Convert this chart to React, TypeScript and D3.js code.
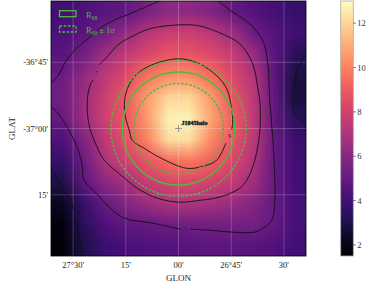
import { useMemo } from 'react'
import * as d3 from 'd3'

// sky window (deg)
const lonEdges = [27.605, 26.395]
const latEdges = [-36.519, -37.481]

const xTicks = [27.5, 27.25, 27.0, 26.75, 26.5]
const xTickLabels = ["27°30'", "15'", "00'", "26°45'", "30'"]
const yTicks = [-36.75, -37.0, -37.25]
const yTickLabels = ["-36°45'", "-37°00'", "15'"]

const cbDomain = [1.5, 13.0]
const cbTicks = [2, 4, 6, 8, 10, 12]

// counts map, rows top -> bottom, columns left -> right
const heat = [
	[4.0, 4.3, 4.6, 4.9, 5.5, 6.1, 6.2, 5.8, 5.0, 4.5, 4.1, 3.7],
	[4.3, 4.7, 5.4, 6.3, 7.3, 7.8, 7.9, 7.4, 6.6, 5.2, 4.5, 3.9],
	[4.6, 5.4, 6.6, 7.6, 8.3, 8.8, 8.8, 8.4, 7.7, 6.4, 4.6, 3.3],
	[5.1, 6.2, 7.4, 8.4, 9.6, 10.3, 10.3, 9.5, 8.3, 7.2, 4.7, 2.9],
	[5.3, 6.5, 7.8, 9.0, 10.7, 12.0, 12.0, 10.6, 8.9, 7.4, 4.8, 2.8],
	[5.0, 6.5, 7.9, 8.9, 10.6, 12.7, 12.7, 10.8, 9.1, 7.5, 4.9, 3.3],
	[4.3, 5.7, 7.4, 8.6, 10.0, 12.2, 12.2, 10.2, 8.8, 7.4, 5.0, 3.8],
	[3.7, 5.1, 7.0, 8.0, 8.8, 9.5, 9.7, 9.2, 8.3, 7.1, 5.0, 4.0],
	[3.0, 4.8, 6.0, 6.8, 7.7, 8.2, 8.3, 8.0, 7.6, 6.6, 5.0, 4.0],
	[2.2, 3.7, 5.0, 5.8, 6.5, 7.0, 7.0, 6.8, 6.4, 5.9, 5.0, 4.1],
	[1.8, 3.3, 4.3, 4.8, 5.0, 5.2, 5.3, 5.4, 5.4, 5.4, 4.9, 4.1],
	[1.6, 3.0, 3.8, 4.2, 4.4, 4.5, 4.6, 4.7, 4.7, 4.6, 4.4, 4.0],
]

// contour lines [glon, glat]
const level5a = [
	[26.824, -36.511], [26.757, -36.553], [26.662, -36.605], [26.6, -36.669],
	[26.576, -36.756], [26.567, -36.895], [26.552, -37.045], [26.543, -37.195],
	[26.543, -37.271], [26.557, -37.346], [26.6, -37.376], [26.638, -37.391],
	[26.743, -37.391], [26.867, -37.383], [26.943, -37.38],
]
const level5b = [
	[26.99, -37.38], [27.124, -37.357], [27.257, -37.338], [27.329, -37.297],
	[27.39, -37.244], [27.448, -37.195], [27.457, -37.139], [27.481, -37.071],
	[27.519, -37.008], [27.571, -36.944], [27.629, -36.895], [27.629, -36.85],
	[27.571, -36.801], [27.533, -36.744], [27.481, -36.695], [27.424, -36.658],
	[27.376, -36.624], [27.314, -36.594], [27.233, -36.568], [27.067, -36.511],
]
const level7 = [
	[27.376, -36.759], [27.343, -36.733], [27.281, -36.68], [27.233, -36.658],
	[27.138, -36.624], [26.995, -36.609], [26.9, -36.613], [26.805, -36.639],
	[26.71, -36.68], [26.648, -36.756], [26.624, -36.846], [26.614, -36.895],
	[26.614, -37.008], [26.638, -37.12], [26.676, -37.195], [26.71, -37.226],
	[26.805, -37.259], [26.9, -37.271], [26.995, -37.278], [27.1, -37.263],
	[27.195, -37.226], [27.271, -37.177], [27.352, -37.12], [27.39, -37.064],
	[27.424, -36.989], [27.433, -36.895], [27.419, -36.835], [27.405, -36.816],
]
const level9 = [
	[26.776, -37.056], [26.819, -37.12], [26.886, -37.143], [26.962, -37.15],
	[27.09, -37.109], [27.162, -37.075], [27.219, -37.045], [27.233, -37.008],
	[27.248, -36.97], [27.257, -36.914], [27.243, -36.85], [27.195, -36.793],
	[27.114, -36.756], [26.995, -36.737], [26.9, -36.756], [26.819, -36.801],
	[26.771, -36.85], [26.748, -36.925], [26.743, -36.977], [26.748, -37.004],
]
const level3a = [
	[27.624, -37.132], [27.571, -37.192], [27.543, -37.233], [27.51, -37.271],
	[27.5, -37.305],
]
const level3b = [
	[27.481, -37.357], [27.476, -37.383], [27.471, -37.414], [27.462, -37.447],
	[27.452, -37.496],
]
const level3c = [
	[26.381, -36.707], [26.433, -36.774], [26.448, -36.831], [26.457, -36.895],
	[26.448, -36.944], [26.381, -36.989],
]
const contourLines = [level5a, level5b, level7, level9, level3a, level3b, level3c]
const contourLabels = [
	{ text: '5', lon: 26.967, lat: -37.38 },
	{ text: '7', lon: 27.39, lat: -36.789 },
	{ text: '9', lon: 26.757, lat: -37.03 },
	{ text: '3', lon: 27.486, lat: -37.331 },
]

// source + containment radii (deg)
const source = { name: 'J1845halo', lon: 27.0, lat: -37.0 }
const r68 = 0.213
const r68Err = [0.17, 0.256]

const green = '#4cbb3a'
const serif = '"Liberation Serif", "DejaVu Serif", serif'

export default function App() {
	const margin = { top: 1, right: 306, bottom: 256, left: 51 }
	const x = d3.scaleLinear().domain(lonEdges).range([margin.left, margin.right])
	const y = d3.scaleLinear().domain(latEdges).range([margin.top, margin.bottom])
	const color = d3.scaleSequential(d3.interpolateMagma).domain(cbDomain)
	const cbY = d3.scaleLinear().domain(cbDomain).range([margin.bottom, margin.top])
	const cbX0 = 340.7
	const cbX1 = 353.3

	const heatHref = useMemo(() => {
		const c = document.createElement('canvas')
		c.width = heat[0].length
		c.height = heat.length
		const ctx = c.getContext('2d')
		heat.forEach((row, j) =>
			row.forEach((v, i) => {
				ctx.fillStyle = color(v)
				ctx.fillRect(i, j, 1, 1)
			})
		)
		return c.toDataURL()
	}, [])

	const line = d3
		.line<number[]>()
		.x((d) => x(d[0]))
		.y((d) => y(d[1]))
		.curve(d3.curveCatmullRom)

	const cosB = Math.cos((source.lat * Math.PI) / 180)
	const circ = (r: number) => ({
		cx: x(source.lon),
		cy: y(source.lat),
		rx: Math.abs(x(source.lon + r / cosB) - x(source.lon)),
		ry: Math.abs(y(source.lat - r) - y(source.lat)),
	})

	const stops = d3.range(0, 1.0001, 0.05)

	return (
		<svg
			width={374}
			height={283}
			style={{ position: 'absolute', left: 0, top: 0 }}
			fontFamily={serif}
		>
			<defs>
				<clipPath id="plotclip">
					<rect
						x={margin.left}
						y={margin.top}
						width={margin.right - margin.left}
						height={margin.bottom - margin.top}
					/>
				</clipPath>
				<linearGradient id="cbgrad" x1="0" y1="1" x2="0" y2="0">
					{stops.map((t) => (
						<stop key={t} offset={t} stopColor={d3.interpolateMagma(t)} />
					))}
				</linearGradient>
			</defs>

			<image
				href={heatHref}
				x={margin.left}
				y={margin.top}
				width={margin.right - margin.left}
				height={margin.bottom - margin.top}
				preserveAspectRatio="none"
			/>

			{/* grid */}
			<g stroke="#fff" strokeOpacity={0.3} strokeWidth={0.7}>
				{xTicks.map((t) => (
					<line key={t} x1={x(t)} x2={x(t)} y1={margin.top} y2={margin.bottom} />
				))}
				{yTicks.map((t) => (
					<line key={t} y1={y(t)} y2={y(t)} x1={margin.left} x2={margin.right} />
				))}
			</g>

			<g clipPath="url(#plotclip)">
				{contourLines.map((c, i) => (
					<path key={i} d={line(c)} fill="none" stroke="#111" strokeWidth={0.9} />
				))}
				{contourLabels.map((l) => (
					<text
						key={l.text}
						x={x(l.lon)}
						y={y(l.lat)}
						fontSize={5.5}
						textAnchor="middle"
						dominantBaseline="central"
						fill="#222"
					>
						{l.text}
					</text>
				))}
				<ellipse {...circ(r68)} fill="none" stroke={green} strokeWidth={1.4} />
				{r68Err.map((r) => (
					<ellipse
						key={r}
						{...circ(r)}
						fill="none"
						stroke={green}
						strokeWidth={1.4}
						strokeDasharray="2.6,1.6"
					/>
				))}
				<g stroke="#999" strokeWidth={1}>
					<line x1={x(source.lon) - 3.5} x2={x(source.lon) + 3.5} y1={y(source.lat)} y2={y(source.lat)} />
					<line x1={x(source.lon)} x2={x(source.lon)} y1={y(source.lat) - 3.5} y2={y(source.lat) + 3.5} />
				</g>
				<text
					x={x(source.lon) + 3}
					y={y(source.lat) - 4}
					fontSize={6}
					fontWeight="bold"
					fill="#111"
					stroke="#666"
					strokeWidth={0.6}
					paintOrder="stroke"
				>
					{source.name}
				</text>
			</g>

			{/* legend */}
			<g>
				<rect x={59.5} y={10.7} width={16.5} height={6} fill="none" stroke={green} strokeWidth={1.3} />
				<rect
					x={59.5}
					y={26}
					width={16.5}
					height={6}
					fill="none"
					stroke={green}
					strokeWidth={1.3}
					strokeDasharray="2.6,1.6"
				/>
				<text x={86} y={18} fontSize={8.5} fill={green}>
					R<tspan fontSize={5.5} dy={1.5}>68</tspan>
				</text>
				<text x={86} y={33} fontSize={8.5} fill={green}>
					R<tspan fontSize={5.5} dy={1.5}>68</tspan>
					<tspan dy={-1.5}> ± 1σ</tspan>
				</text>
			</g>

			<rect
				x={margin.left}
				y={margin.top}
				width={margin.right - margin.left}
				height={margin.bottom - margin.top}
				fill="none"
				stroke="#000"
				strokeWidth={0.8}
			/>

			{/* axes labels */}
			<g fontSize={8.5} fill="#222">
				{xTicks.map((t, i) => (
					<text key={t} x={x(t)} y={268} textAnchor="middle">
						{xTickLabels[i]}
					</text>
				))}
				{yTicks.map((t, i) => (
					<text key={t} x={48} y={y(t)} textAnchor="end" dominantBaseline="central">
						{yTickLabels[i]}
					</text>
				))}
			</g>
			<text x={(margin.left + margin.right) / 2} y={281} fontSize={9} textAnchor="middle" fill="#222">
				GLON
			</text>
			<text
				transform={`translate(12,${(margin.top + margin.bottom) / 2}) rotate(-90)`}
				fontSize={9}
				textAnchor="middle"
				dominantBaseline="central"
				fill="#222"
			>
				GLAT
			</text>

			{/* colorbar */}
			<rect
				x={cbX0}
				y={margin.top}
				width={cbX1 - cbX0}
				height={margin.bottom - margin.top}
				fill="url(#cbgrad)"
				stroke="#aaa"
				strokeWidth={0.8}
			/>
			<g fontSize={8.5} fill="#333">
				{cbTicks.map((t) => (
					<g key={t}>
						<line x1={cbX1} x2={cbX1 + 2.5} y1={cbY(t)} y2={cbY(t)} stroke="#333" strokeWidth={0.7} />
						<text x={cbX1 + 4} y={cbY(t)} dominantBaseline="central">
							{t}
						</text>
					</g>
				))}
			</g>
		</svg>
	)
}
